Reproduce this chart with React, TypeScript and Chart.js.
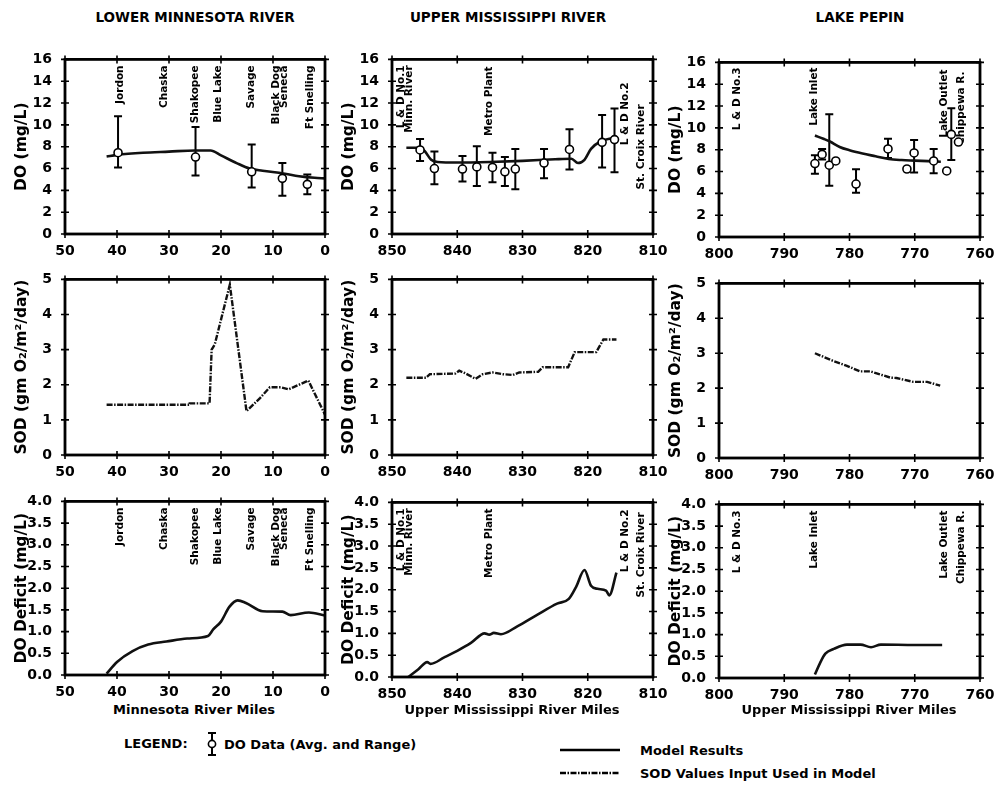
import React, { useEffect, useRef } from "react";
import { Chart, registerables } from "chart.js";
Chart.register(...registerables);

type Pt = [number, number];
type Obs = [number, number, number, number]; // mile, avg, low, high
type Site = { mile: number; lines: string[] };

const FONT = "'DejaVu Sans', 'Liberation Sans', Arial, sans-serif";

// ---------- Lower Minnesota River ----------
const LMR_MILES: Pt = [0, 50];
const LMR_DO_MODEL: Pt[] = [[42, 7.1], [40, 7.25], [35, 7.45], [30, 7.55], [25, 7.65], [22, 7.65], [20, 7.2], [17, 6.5], [14.5, 6.0], [12, 5.8], [8, 5.55], [5, 5.3], [2, 5.15], [0, 5.1]];
const LMR_DO_DATA: Obs[] = [[39.8, 7.45, 6.1, 10.8], [24.9, 7.05, 5.35, 9.8], [14.1, 5.7, 4.25, 8.2], [8.2, 5.1, 3.5, 6.5], [3.4, 4.55, 3.65, 5.45]];
const LMR_SOD: Pt[] = [[42, 1.43], [26, 1.43], [26, 1.47], [22.2, 1.47], [21.8, 3.0], [21.2, 3.15], [18.3, 4.85], [15.1, 1.25], [12.5, 1.62], [10.6, 1.93], [8.5, 1.93], [7, 1.87], [3.2, 2.12], [0, 1.15]];
const LMR_DEFICIT: Pt[] = [[42, 0.03], [40, 0.3], [37, 0.55], [34, 0.7], [30.5, 0.77], [26.5, 0.84], [22.5, 0.9], [21.5, 1.05], [20, 1.23], [18.4, 1.57], [16.8, 1.72], [15.2, 1.66], [12, 1.47], [8.2, 1.46], [6.6, 1.38], [3.1, 1.44], [0, 1.37]];
const LMR_SITES: Site[] = [
  { mile: 39.4, lines: ["Jordon"] },
  { mile: 31.0, lines: ["Chaska"] },
  { mile: 24.9, lines: ["Shakopee"] },
  { mile: 20.5, lines: ["Blue Lake"] },
  { mile: 14.1, lines: ["Savage"] },
  { mile: 9.4, lines: ["Black Dog", "Seneca"] },
  { mile: 2.9, lines: ["Ft Snelling"] },
];

// ---------- Upper Mississippi River ----------
const UMR_MILES: Pt = [810, 850];
const UMR_DO_MODEL: Pt[] = [[847.8, 7.9], [846, 7.9], [845, 7.6], [844, 6.8], [843, 6.6], [840, 6.55], [835, 6.6], [830, 6.7], [825, 6.85], [822.5, 6.9], [821.5, 6.5], [820.5, 6.8], [819.5, 7.8], [818, 8.5], [816.5, 8.75], [815.5, 8.8]];
const UMR_DO_DATA: Obs[] = [[845.7, 7.7, 6.7, 8.7], [843.5, 6.0, 4.55, 7.55], [839.2, 5.95, 4.8, 7.15], [837.0, 6.15, 4.4, 8.05], [834.6, 6.1, 4.75, 7.45], [832.7, 5.7, 4.4, 7.05], [831.1, 5.95, 4.1, 7.8], [826.7, 6.5, 5.1, 7.8], [822.8, 7.75, 5.9, 9.6], [817.8, 8.4, 6.1, 10.9], [815.9, 8.65, 5.65, 11.5]];
const UMR_SOD: Pt[] = [[847.8, 2.2], [844.8, 2.2], [844.2, 2.3], [840.3, 2.32], [839.7, 2.4], [838.8, 2.33], [837.2, 2.17], [836.1, 2.3], [834.6, 2.35], [833, 2.3], [831.5, 2.28], [830.5, 2.35], [827.6, 2.37], [826.9, 2.5], [823, 2.5], [822, 2.93], [818.7, 2.93], [817.6, 3.29], [815.6, 3.29]];
const UMR_DEFICIT: Pt[] = [[847.5, 0], [846, 0.17], [844.6, 0.34], [844.1, 0.3], [842, 0.45], [840, 0.6], [837.9, 0.78], [835.8, 1.0], [835.1, 0.97], [834.4, 1.01], [833.3, 0.98], [830.8, 1.16], [827.7, 1.43], [824.7, 1.68], [822.9, 1.79], [821.8, 2.06], [820.5, 2.45], [819.5, 2.09], [818.5, 2.02], [817.2, 1.98], [816.7, 1.87], [815.6, 2.39]];
const UMR_SITES: Site[] = [
  { mile: 848.6, lines: ["L & D No.1", "Minn. River"] },
  { mile: 835.1, lines: ["Metro Plant"] },
  { mile: 814.3, lines: ["L & D No.2"] },
  { mile: 811.8, lines: ["St. Croix River"] },
];

// ---------- Lake Pepin ----------
const LP_MILES: Pt = [760, 800];
const LP_DO_MODEL: Pt[] = [[785.3, 9.3], [784, 9.0], [783, 8.75], [781.5, 8.25], [780, 7.95], [778, 7.65], [776, 7.4], [774, 7.15], [772, 7.05], [770, 7.0], [768, 6.95], [766, 6.9]];
const LP_DO_DATA: Obs[] = [[785.3, 6.73, 5.8, 7.5], [784.2, 7.57, 7.1, 8.07], [783.1, 6.58, 4.7, 11.26], [782.1, 6.97, 6.97, 6.97], [779.0, 4.85, 4.05, 6.2], [774.1, 8.07, 7.24, 9.0], [771.2, 6.23, 6.23, 6.23], [770.1, 7.7, 5.9, 8.9], [767.1, 6.97, 5.85, 8.07], [765.1, 6.05, 6.05, 6.05], [764.4, 9.4, 7.05, 11.8], [763.3, 8.7, 8.7, 8.7]];
const LP_SOD: Pt[] = [[785.3, 3.0], [782.5, 2.78], [780.4, 2.64], [778.4, 2.48], [776.8, 2.48], [773.7, 2.3], [772.8, 2.29], [770.2, 2.18], [768.1, 2.18], [766.1, 2.07]];
const LP_DEFICIT: Pt[] = [[785.3, 0.08], [784.5, 0.35], [783.7, 0.56], [782.4, 0.67], [780.4, 0.77], [778.3, 0.77], [776.7, 0.71], [775.2, 0.77], [770, 0.76], [765.8, 0.76]];
const LP_SITES: Site[] = [
  { mile: 797.2, lines: ["L & D No.3"] },
  { mile: 785.4, lines: ["Lake Inlet"] },
  { mile: 765.4, lines: ["Lake Outlet"] },
  { mile: 762.8, lines: ["Chippewa R."] },
];

// ---------- axes ----------
const DO_RANGE: Pt = [0, 16];
const SOD_RANGE: Pt = [0, 5];
const DEF_RANGE: Pt = [0, 4];
const COLUMN_TITLES = ["LOWER MINNESOTA RIVER", "UPPER MISSISSIPPI RIVER", "LAKE PEPIN"];
const X_TITLES = ["Minnesota River Miles", "Upper Mississippi River Miles", "Upper Mississippi River Miles"];
const Y_TITLES = ["DO (mg/L)", "SOD (gm O\u2082/m\u00B2/day)", "DO Deficit (mg/L)"];
const LEGEND_ITEMS = ["DO Data (Avg. and Range)", "Model Results", "SOD Values Input Used in Model"];

type Kind = "do" | "sod" | "def";
type PanelCfg = {
  kind: Kind;
  left: number; top: number; w: number; h: number;
  xr: Pt; yr: Pt; yStep: number; yTitle: string;
  line: Pt[]; obs?: Obs[]; sites?: Site[]; siteTop?: number[];
};

const L = 52, T = 9, R = 16, B = 24;

function makeDecor(p: PanelCfg) {
  return {
    id: "decor",
    beforeDatasetsDraw(chart: any) {
      const { ctx, scales } = chart;
      const x = scales.x, y = scales.y;
      if (p.sites) {
        ctx.save();
        ctx.fillStyle = "#000";
        ctx.font = "bold 10.5px " + FONT;
        ctx.textAlign = "right";
        ctx.textBaseline = "middle";
        p.sites.forEach((s, i) => {
          const off = p.siteTop && p.siteTop[i] !== undefined ? p.siteTop[i] : 6;
          s.lines.forEach((t, j) => {
            const px = x.getPixelForValue(s.mile) + j * 8.5;
            const py = chart.chartArea.top + off;
            ctx.save();
            ctx.translate(px, py);
            ctx.rotate(-Math.PI / 2);
            ctx.fillText(t, 0, 0);
            ctx.restore();
          });
        });
        ctx.restore();
      }
      if (p.obs) {
        ctx.save();
        ctx.strokeStyle = "#000";
        ctx.lineWidth = 2;
        for (const [m, , lo, hi] of p.obs) {
          if (hi <= lo) continue;
          const px = x.getPixelForValue(m);
          const y1 = y.getPixelForValue(hi);
          const y2 = y.getPixelForValue(lo);
          ctx.beginPath();
          ctx.moveTo(px, y1); ctx.lineTo(px, y2);
          ctx.moveTo(px - 4, y1); ctx.lineTo(px + 4, y1);
          ctx.moveTo(px - 4, y2); ctx.lineTo(px + 4, y2);
          ctx.stroke();
        }
        ctx.restore();
      }
    },
    afterDraw(chart: any) {
      const { ctx, scales, chartArea } = chart;
      const { left, right, top, bottom } = chartArea;
      ctx.save();
      ctx.strokeStyle = "#000";
      ctx.lineWidth = 2.8;
      ctx.strokeRect(left, top, right - left, bottom - top);
      ctx.lineWidth = 1.6;
      ctx.beginPath();
      scales.x.ticks.forEach((t: any) => {
        const px = scales.x.getPixelForValue(t.value);
        ctx.moveTo(px, top - 4); ctx.lineTo(px, top + 4);
        ctx.moveTo(px, bottom - 4); ctx.lineTo(px, bottom + 4);
      });
      scales.y.ticks.forEach((t: any) => {
        const py = scales.y.getPixelForValue(t.value);
        ctx.moveTo(left - 4, py); ctx.lineTo(left + 4, py);
        ctx.moveTo(right - 4, py); ctx.lineTo(right + 4, py);
      });
      ctx.stroke();
      ctx.restore();
    },
  };
}

function Panel({ p }: { p: PanelCfg }) {
  const ref = useRef<HTMLCanvasElement>(null);
  const cw = p.w + L + R;
  const ch = p.h + T + B;
  useEffect(() => {
    const datasets: any[] = [];
    if (p.obs) {
      datasets.push({
        data: p.obs.map(o => ({ x: o[0], y: o[1] })),
        showLine: false,
        pointRadius: 4,
        pointBackgroundColor: "#fff",
        pointBorderColor: "#000",
        pointBorderWidth: 1.6,
      });
    }
    datasets.push({
      data: p.line.map(v => ({ x: v[0], y: v[1] })),
      borderColor: "#111",
      borderWidth: p.kind === "sod" ? 2.4 : 2.6,
      borderDash: p.kind === "sod" ? [6, 1.5, 1.5, 1.5] : [],
      pointRadius: 0,
      cubicInterpolationMode: p.kind === "sod" ? "default" : "monotone",
      tension: 0,
      fill: false,
    });
    const tickFont = { family: FONT, size: 14, weight: "bold" as const };
    const chart = new Chart(ref.current!, {
      type: "line",
      data: { datasets },
      plugins: [makeDecor(p)],
      options: {
        animation: false,
        responsive: false,
        devicePixelRatio: 1,
        layout: { padding: { top: T, right: R, left: 0, bottom: 0 } },
        plugins: { legend: { display: false }, tooltip: { enabled: false } },
        scales: {
          x: {
            type: "linear",
            min: p.xr[0], max: p.xr[1], reverse: true,
            grid: { display: false }, border: { display: false },
            ticks: { stepSize: 10, font: tickFont, color: "#000", padding: 1, maxRotation: 0, autoSkip: false },
            afterFit: (s: any) => { s.height = B; },
          },
          y: {
            min: p.yr[0], max: p.yr[1],
            grid: { display: false }, border: { display: false },
            ticks: {
              stepSize: p.yStep, font: tickFont, color: "#000", padding: 5,
              callback: (v: any) => (p.kind === "def" ? Number(v).toFixed(1) : String(v)),
            },
            title: { display: true, text: p.yTitle, color: "#000", font: { family: FONT, size: 15.5, weight: "bold" }, padding: { top: 0, bottom: 0 } },
            afterFit: (s: any) => { s.width = L; },
          },
        },
      } as any,
    });
    return () => chart.destroy();
  }, []);
  return (
    <canvas
      ref={ref}
      width={cw}
      height={ch}
      style={{ position: "absolute", left: p.left - L, top: p.top - T, width: cw, height: ch }}
    />
  );
}

const COLS = [
  { left: 65, w: 260, xr: LMR_MILES, tops: [55, 275, 497], hs: [179, 180, 178] },
  { left: 392, w: 261, xr: UMR_MILES, tops: [55, 275, 498], hs: [179, 180, 179] },
  { left: 719, w: 261, xr: LP_MILES, tops: [58, 279, 500], hs: [179, 179, 178] },
];

const PANELS: PanelCfg[] = [
  { kind: "do", ...COLS[0], top: COLS[0].tops[0], h: COLS[0].hs[0], yr: DO_RANGE, yStep: 2, yTitle: Y_TITLES[0], line: LMR_DO_MODEL, obs: LMR_DO_DATA, sites: LMR_SITES },
  { kind: "do", ...COLS[1], top: COLS[1].tops[0], h: COLS[1].hs[0], yr: DO_RANGE, yStep: 2, yTitle: Y_TITLES[0], line: UMR_DO_MODEL, obs: UMR_DO_DATA, sites: UMR_SITES, siteTop: [6, 7, 23, 45] },
  { kind: "do", ...COLS[2], top: COLS[2].tops[0], h: COLS[2].hs[0], yr: DO_RANGE, yStep: 2, yTitle: Y_TITLES[0], line: LP_DO_MODEL, obs: LP_DO_DATA, sites: LP_SITES, siteTop: [5, 5, 7, 9] },
  { kind: "sod", ...COLS[0], top: COLS[0].tops[1], h: COLS[0].hs[1], yr: SOD_RANGE, yStep: 1, yTitle: Y_TITLES[1], line: LMR_SOD },
  { kind: "sod", ...COLS[1], top: COLS[1].tops[1], h: COLS[1].hs[1], yr: SOD_RANGE, yStep: 1, yTitle: Y_TITLES[1], line: UMR_SOD },
  { kind: "sod", ...COLS[2], top: COLS[2].tops[1], h: COLS[2].hs[1], yr: SOD_RANGE, yStep: 1, yTitle: Y_TITLES[1], line: LP_SOD },
  { kind: "def", ...COLS[0], top: COLS[0].tops[2], h: COLS[0].hs[2], yr: DEF_RANGE, yStep: 0.5, yTitle: Y_TITLES[2], line: LMR_DEFICIT, sites: LMR_SITES },
  { kind: "def", ...COLS[1], top: COLS[1].tops[2], h: COLS[1].hs[2], yr: DEF_RANGE, yStep: 0.5, yTitle: Y_TITLES[2], line: UMR_DEFICIT, sites: UMR_SITES, siteTop: [6, 6, 7, 10] },
  { kind: "def", ...COLS[2], top: COLS[2].tops[2], h: COLS[2].hs[2], yr: DEF_RANGE, yStep: 0.5, yTitle: Y_TITLES[2], line: LP_DEFICIT, sites: LP_SITES },
];

const txt = (x: number, y: number, size: number, center = false): React.CSSProperties => ({
  position: "absolute", left: x, top: y, fontFamily: FONT, fontWeight: "bold", fontSize: size,
  lineHeight: "1", whiteSpace: "nowrap", transform: center ? "translate(-50%, -50%)" : "translate(0, -50%)", color: "#000",
});

export default function App() {
  const titleX = [195, 508, 860];
  const xTitleX = [194, 512, 849];
  return (
    <div style={{ position: "absolute", left: 0, top: 0, width: 998, height: 785, background: "#fff", overflow: "hidden" }}>
      {COLUMN_TITLES.map((t, i) => (
        <div key={"ct" + i} style={txt(titleX[i], 18, 13.5, true)}>{t}</div>
      ))}
      {PANELS.map((p, i) => <Panel key={i} p={p} />)}
      {X_TITLES.map((t, i) => (
        <div key={"xt" + i} style={txt(xTitleX[i], 709, 13, true)}>{t}</div>
      ))}
      <div style={txt(124, 743, 13)}>LEGEND:</div>
      <svg style={{ position: "absolute", left: 205, top: 731 }} width={14} height={26}>
        <line x1={7} y1={2} x2={7} y2={24} stroke="#000" strokeWidth={2} />
        <line x1={3} y1={2} x2={11} y2={2} stroke="#000" strokeWidth={2} />
        <line x1={3} y1={24} x2={11} y2={24} stroke="#000" strokeWidth={2} />
        <circle cx={7} cy={13} r={3.6} fill="#fff" stroke="#000" strokeWidth={1.6} />
      </svg>
      <div style={txt(224, 744, 13)}>{LEGEND_ITEMS[0]}</div>
      <svg style={{ position: "absolute", left: 558, top: 746 }} width={64} height={34}>
        <line x1={2} y1={4} x2={62} y2={4} stroke="#000" strokeWidth={2.6} />
        <line x1={2} y1={27} x2={62} y2={27} stroke="#000" strokeWidth={2.4} strokeDasharray="6 1.5 1.5 1.5" />
      </svg>
      <div style={txt(640, 750, 13)}>{LEGEND_ITEMS[1]}</div>
      <div style={txt(640, 773, 13)}>{LEGEND_ITEMS[2]}</div>
    </div>
  );
}
